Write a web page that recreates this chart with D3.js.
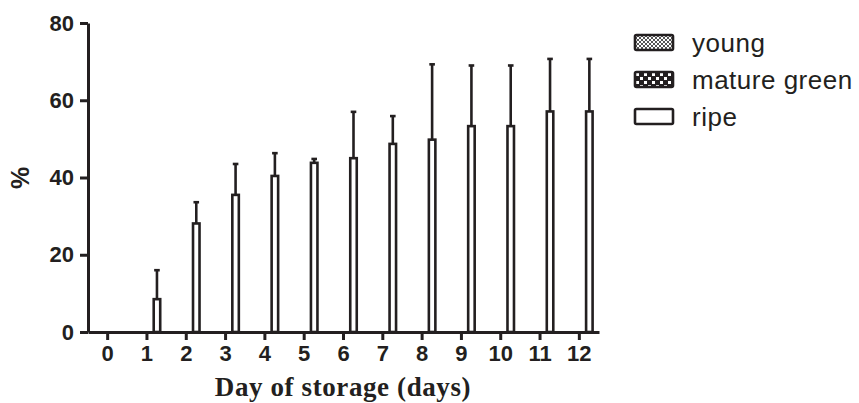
<!DOCTYPE html>
<html>
<head>
<meta charset="utf-8">
<script src="https://cdnjs.cloudflare.com/ajax/libs/d3/7.8.5/d3.min.js"></script>
<style>
body{margin:0;background:#fff;}
</style>
</head>
<body>
<script>
var days=["0","1","2","3","4","5","6","7","8","9","10","11","12"];
var series=["young","mature green","ripe"];
var young=[0,0,0,0,0,0,0,0,0,0,0,0,0];
var mature=[0,0,0,0,0,0,0,0,0,0,0,0,0];
var ripe=[0,8.5,28.1,35.5,40.4,43.8,45.0,48.7,49.8,53.3,53.3,57.1,57.1];
var ripeSD=[0,7.5,5.5,8.0,5.9,1.0,12.0,7.2,19.5,15.7,15.7,13.6,13.6];
var yTicks=[0,20,40,60,80];

var width=859,height=403;
var ink="#231f20";

var svg=d3.select("body").append("svg")
  .attr("width",width)
  .attr("height",height);

var defs=svg.append("defs");
// fine checker for young
var p1=defs.append("pattern").attr("id","pYoung").attr("patternUnits","userSpaceOnUse")
  .attr("width",4).attr("height",4);
p1.append("rect").attr("width",4).attr("height",4).attr("fill","#555");
p1.append("rect").attr("width",2).attr("height",2).attr("fill","#fff");
p1.append("rect").attr("x",2).attr("y",2).attr("width",2).attr("height",2).attr("fill","#fff");
// coarse checker for mature green
var p2=defs.append("pattern").attr("id","pMature").attr("patternUnits","userSpaceOnUse")
  .attr("width",8).attr("height",8);
p2.append("rect").attr("width",8).attr("height",8).attr("fill",ink);
p2.append("rect").attr("x",1).attr("y",1).attr("width",3).attr("height",3).attr("fill","#fff");
p2.append("rect").attr("x",5).attr("y",5).attr("width",3).attr("height",3).attr("fill","#fff");

var fills={"young":"url(#pYoung)","mature green":"url(#pMature)","ripe":"#fff"};

var x=d3.scaleBand().domain(days).range([88,599]).padding(0);
var bw=x.bandwidth();
var x1=d3.scaleBand().domain(series).range([bw/2-15,bw/2+15]);
var y=d3.scaleLinear().domain([0,80]).range([332,23]);

var table=days.map(function(d,i){
  return {day:d,vals:[
    {s:"young",v:young[i],sd:0},
    {s:"mature green",v:mature[i],sd:0},
    {s:"ripe",v:ripe[i],sd:ripeSD[i]}
  ]};
});

var barW=6.5;
var groups=svg.append("g").selectAll("g")
  .data(table)
  .enter()
  .append("g")
  .attr("transform",function(d){return "translate("+x(d.day)+",0)";});

var bars=groups.selectAll("g.bar")
  .data(function(d){return d.vals.filter(function(v){return v.v>0;});})
  .enter()
  .append("g")
  .attr("class","bar");

// error bars
bars.append("line")
  .attr("x1",function(d){return x1(d.s)+x1.bandwidth()/2;})
  .attr("x2",function(d){return x1(d.s)+x1.bandwidth()/2;})
  .attr("y1",function(d){return y(d.v);})
  .attr("y2",function(d){return y(d.v+d.sd);})
  .attr("stroke",ink)
  .attr("stroke-width",2.6);
bars.append("line")
  .attr("x1",function(d){return x1(d.s)+x1.bandwidth()/2-2.8;})
  .attr("x2",function(d){return x1(d.s)+x1.bandwidth()/2+2.8;})
  .attr("y1",function(d){return y(d.v+d.sd);})
  .attr("y2",function(d){return y(d.v+d.sd);})
  .attr("stroke",ink)
  .attr("stroke-width",2.6);

bars.append("rect")
  .attr("x",function(d){return x1(d.s)+x1.bandwidth()/2-barW/2;})
  .attr("y",function(d){return y(d.v);})
  .attr("width",barW)
  .attr("height",function(d){return y(0)-y(d.v);})
  .attr("fill",function(d){return fills[d.s];})
  .attr("stroke",ink)
  .attr("stroke-width",2.6);

// axes
var yAxis=svg.append("g")
  .attr("transform","translate(88,0)")
  .call(d3.axisLeft(y).tickValues(yTicks).tickSize(8).tickSizeOuter(0).tickPadding(6));
var xAxis=svg.append("g")
  .attr("transform","translate(0,332)")
  .call(d3.axisBottom(x).tickSize(8).tickSizeOuter(0).tickPadding(5));

[yAxis,xAxis].forEach(function(a){
  a.select(".domain").attr("stroke",ink).attr("stroke-width",3);
  a.selectAll(".tick line").attr("stroke",ink).attr("stroke-width",3);
  a.selectAll(".tick text")
    .attr("fill",ink)
    .style("font-family","'Liberation Sans', Arial, sans-serif")
    .style("font-weight","bold")
    .style("font-size","22px");
});

svg.append("text")
  .attr("transform","translate(29,178) rotate(-90)")
  .attr("text-anchor","middle")
  .attr("fill",ink)
  .style("font-family","'Liberation Sans', Arial, sans-serif")
  .style("font-weight","bold")
  .style("font-size","25px")
  .text("%");

svg.append("text")
  .attr("x",343)
  .attr("y",396)
  .attr("text-anchor","middle")
  .attr("fill",ink)
  .style("font-family","'Liberation Serif', 'Times New Roman', serif")
  .style("font-weight","bold")
  .style("font-size","27px")
  .style("letter-spacing","0.6px")
  .text("Day of storage (days)");

// legend
var legend=svg.append("g").selectAll("g")
  .data(series)
  .enter()
  .append("g")
  .attr("transform",function(d,i){return "translate(635,"+(35+i*37)+")";});
legend.append("rect")
  .attr("width",38)
  .attr("height",15)
  .attr("rx",1.5)
  .attr("fill",function(d){return fills[d];})
  .attr("stroke",ink)
  .attr("stroke-width",2.6);
legend.append("text")
  .attr("x",57)
  .attr("y",17)
  .attr("fill",ink)
  .style("font-family","'Liberation Sans', Arial, sans-serif")
  .style("font-size","26px")
  .style("letter-spacing","0.5px")
  .text(function(d){return d;});
</script>
</body>
</html>
